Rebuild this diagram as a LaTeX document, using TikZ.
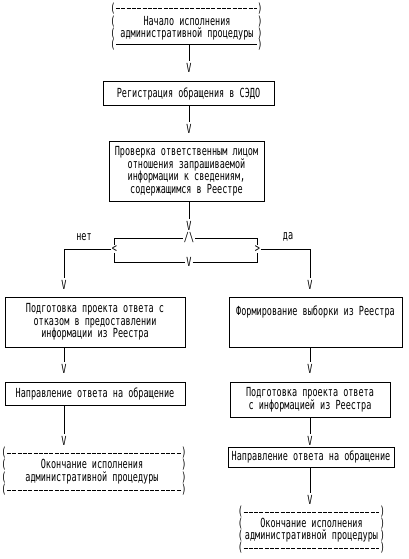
\documentclass[tikz,border=0pt]{standalone}
\usepackage{fontspec}
\newfontfamily\pixfont[FakeStretch=0.68]{DejaVu Sans Mono}
\begin{document}
\begin{tikzpicture}[x=1pt,y=-1pt,
  font=\pixfont\fontsize{12.5}{12.4}\selectfont,
  line width=1pt,
  box/.style={draw, line width=1pt, inner sep=0pt, align=center},
  txt/.style={inner sep=0pt, align=center},
  vee/.style={inner sep=0pt, outer sep=2pt},
  par/.style={inner sep=0pt, outer sep=0.5pt},
  dashrow/.style={dash pattern=on 4pt off 1.3pt}]
\useasboundingbox (0,0) rectangle (408,559);

% start
\foreach \y [count=\i] in {9,22,34,45} {
  \node[par] (sl\i) at (113,\y) {(};
  \node[par] (sr\i) at (260,\y) {)};
}
\draw[dashrow] (sl1.east) -- (sr1.west);
\draw (sl4.east) -- (sr4.west);
\node[txt] (start) at (187,28) {Начало исполнения\\административной процедуры};

\node[vee] (veeA) at (189,68) {V};
\draw (sr4.west -| veeA) -- (veeA.north);

\node[box, minimum width=171pt, minimum height=24pt] (reg) at (188.5,94) {Регистрация обращения в СЭДО};
\node[vee] (veeB) at (189,129) {V};
\draw (reg.south -| veeB) -- (veeB.north);

\node[box, minimum width=155pt, minimum height=60pt] (check) at (186.5,171)
  {Проверка ответственным лицом\\отношения запрашиваемой\\информации к сведениям,\\содержащимся в Реестре};
\node[vee] (veeC) at (189,226) {V};
\draw (check.south -| veeC) -- (veeC.north);

% decision
\node[inner sep=0pt, outer sep=1pt] (hat) at (189,238) {/\textbackslash};
\node[par] (lang) at (114.5,249) {<};
\node[par] (rang) at (257.5,249) {>};
\node[inner sep=0pt, outer sep=1pt] (veeD) at (189,262) {V};
\draw (lang.north) |- (hat.west);
\draw (hat.east) -| (rang.north);
\draw (lang.south) |- (veeD.west);
\draw (veeD.east) -| (rang.south);

\node[txt] (no) at (84,237) {нет};
\node[txt] (yes) at (288,237) {да};

\node[vee] (veeL1) at (64,285) {V};
\node[vee] (veeR1) at (310,285) {V};
\draw (lang.west) -| (veeL1.north);
\draw (rang.east) -| (veeR1.north);

% left branch
\node[box, minimum width=180pt, minimum height=50pt] (leftA) at (95,322)
  {Подготовка проекта ответа с\\отказом в предоставлении\\информации из Реестра};
\node[vee] (veeL2) at (64,369) {V};
\draw (leftA.south -| veeL2) -- (veeL2.north);
\node[box, minimum width=180pt, minimum height=23pt] (leftB) at (95,393.5) {Направление ответа на обращение};
\node[vee] (veeL3) at (64,441) {V};
\draw (leftB.south -| veeL3) -- (veeL3.north);

\foreach \y [count=\i] in {453,465,478,490} {
  \node[par] (el\i) at (4,\y) {(};
  \node[par] (er\i) at (184,\y) {)};
}
\draw[dashrow] (el1.east) -- (er1.west);
\draw[dashrow] (el4.east) -- (er4.west);
\node[txt] (endL) at (92,471.5) {Окончание исполнения\\административной процедуры};

% right branch
\node[box, minimum width=173pt, minimum height=50pt] (rightA) at (315.5,322) {};
\node[txt] (rightAt) at (315.5,312) {Формирование выборки из Реестра};
\node[vee] (veeR2) at (310,369) {V};
\draw (rightA.south -| veeR2) -- (veeR2.north);
\node[box, minimum width=160pt, minimum height=35pt] (rightB) at (310,399.5)
  {Подготовка проекта ответа\\с информацией из Реестра};
\node[vee] (veeR3) at (310,441) {V};
\draw (rightB.south -| veeR3) -- (veeR3.north);
\node[box, minimum width=166pt, minimum height=20pt] (rightC) at (311,457) {Направление ответа на обращение};
\node[vee] (veeR4) at (310,500) {V};
\draw (rightC.south -| veeR4) -- (veeR4.north);

\foreach \y [count=\i] in {512,524,536,548} {
  \node[par] (fl\i) at (240.5,\y) {(};
  \node[par] (fr\i) at (382.5,\y) {)};
}
\draw[dashrow] (fl1.east) -- (fr1.west);
\draw[dashrow] (fl4.east) -- (fr4.west);
\node[txt] (endR) at (311.5,530) {Окончание исполнения\\административной процедуры};
\end{tikzpicture}
\end{document}
